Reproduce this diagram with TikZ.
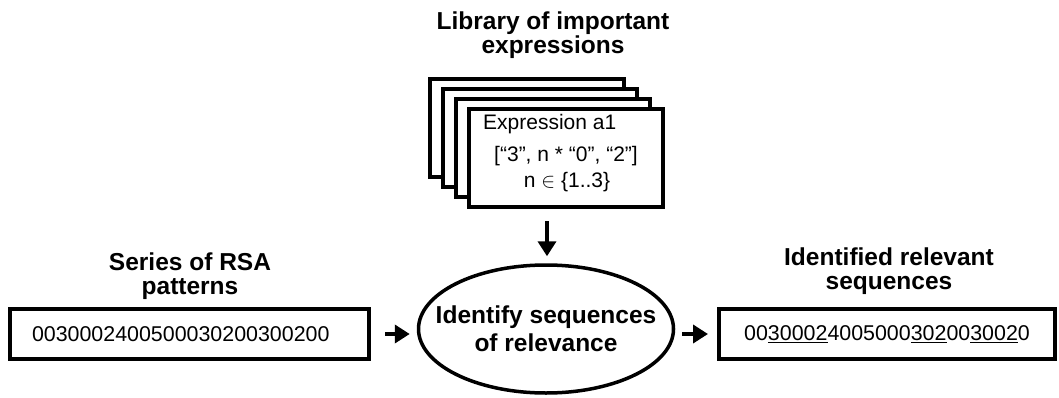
\documentclass[tikz,border=0pt]{standalone}
\usepackage{fontspec}
\setmainfont{Liberation Sans}
\usetikzlibrary{positioning,arrows.meta,shapes.geometric}
\tikzset{
  heading/.style={font=\fontsize{24.5}{24}\selectfont\bfseries,align=center},
  plain/.style={font=\fontsize{21}{24}\selectfont,inner sep=0pt},
  seqbox/.style={draw,line width=4pt,minimum height=50pt,inner sep=0pt,font=\fontsize{21.4}{24}\selectfont},
  cardline/.style={draw,line width=4pt,fill=white},
  flow/.style={-{Triangle[length=15pt,width=18pt]},line width=4pt},
}
\begin{document}
\begin{tikzpicture}[x=1pt,y=-1pt]
\useasboundingbox (0,0) rectangle (1059,398);
\node[heading] (libhead) at (553,35) {Library of important\\expressions};
\foreach \k in {3,2,1}
  \draw[cardline] (469-13*\k,109-10*\k) rectangle ++(194,98);
\node[cardline,minimum width=194pt,minimum height=98pt] (expr) at (566,158) {};
\node[plain,anchor=base west] (exprname) at (483,130) {Expression a1};
\node[plain,anchor=base] (exprpat) at (566,162) {[“3”, n * “0”, “2”]};
\node[plain,anchor=base] (exprrange) at (567,187) {n $\in$ \{1..3\}};
\coordinate (stackfoot) at (547,215);
\node[ellipse,draw,line width=3.5pt,minimum width=255pt,minimum height=128pt,inner sep=0pt] (identify) at (546,329) {};
\node[heading,font=\fontsize{24.5}{28}\selectfont\bfseries] (identifytext) at (identify.center) {Identify sequences\\of relevance};
\node[heading] (rsahead) at (190,276) {Series of RSA\\patterns};
\node[seqbox,minimum width=359pt,text width=315pt,align=left,inner xsep=22pt] (rsa) at (189.5,334) {0030002400500030200300200};
\node[heading] (foundhead) at (889,271) {Identified relevant\\sequences};
\node[seqbox,minimum width=336pt] (found) at (887,334) {00\underline{30002}4005000\underline{302}00\underline{3002}0};
\draw[flow,shorten <=6pt,shorten >=7pt] (stackfoot) -- (stackfoot |- identify.north);
\draw[flow,shorten <=14pt,shorten >=7pt] (rsa.east) -- (rsa.east -| identify.west);
\draw[flow,shorten <=7pt,shorten >=9pt] (identify.east |- found.west) -- (found.west);
\end{tikzpicture}
\end{document}
